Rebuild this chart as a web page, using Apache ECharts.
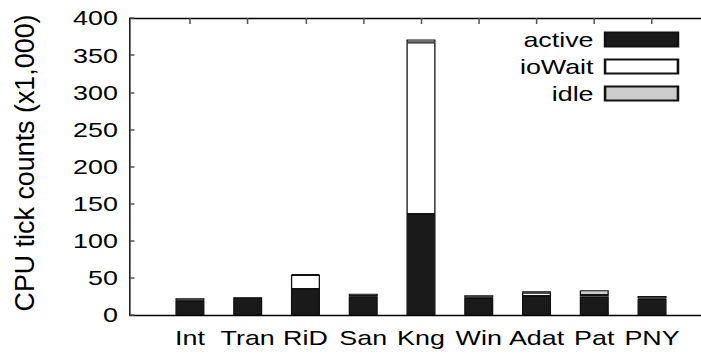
<!DOCTYPE html>
<html>
<head>
<meta charset="utf-8">
<script src="https://cdn.jsdelivr.net/npm/echarts@6/dist/echarts.min.js"></script>
<style>
  html, body { margin: 0; padding: 0; background: #fff; overflow: hidden; }
  /* The chart is laid out on a narrower canvas and widened horizontally,
     which gives the broad lettering of the figure. */
  #chart { width: 548px; height: 357px; transform: scaleX(1.2792); transform-origin: 0 0; }
</style>
</head>
<body>
<div id="chart"></div>
<script>
// Workloads on the x axis
const categories = ['Int', 'Tran', 'RiD', 'San', 'Kng', 'Win', 'Adat', 'Pat', 'PNY'];
// CPU tick counts, in thousands, per state
const active = [19, 22, 35, 25, 136, 23, 25.5, 25, 21.5];
const ioWait = [0.5, 0.5, 19, 0.5, 231, 0.5, 4.5, 2, 1];
const idle   = [3, 1.5, 1, 3, 4, 3, 2, 6.5, 3];
// Y axis range and step
const yTicks = { min: 0, max: 400, step: 50 };
const yTitle = 'CPU tick counts (x1,000)';

const WIDEN = 1.2792;
const font = 'Liberation Sans, Arial, Helvetica, sans-serif';
const chart = echarts.init(document.getElementById('chart'), null, { renderer: 'svg' });

function barSeries(name, data, color) {
  return {
    name: name,
    type: 'bar',
    stack: 'cpu',
    xAxisIndex: 2,
    yAxisIndex: 1,
    barWidth: 22.7,
    data: data,
    itemStyle: { color: color, borderColor: '#111', borderWidth: 1 },
    emphasis: { disabled: true },
    animation: false
  };
}

chart.setOption({
  animation: false,
  backgroundColor: '#fff',
  grid: [
    // frame with the y axis
    { left: 101.6, right: 0, top: 18, bottom: 42, containLabel: false },
    // band area holding the bars
    { left: 125.9, right: 15.7, top: 18, bottom: 42, containLabel: false }
  ],
  graphic: [{
    type: 'text',
    x: 19.5,
    y: 163,
    rotation: Math.PI / 2,
    scaleX: WIDEN,
    silent: true,
    style: {
      text: yTitle,
      fontFamily: font,
      fontSize: 21,
      fill: '#000',
      align: 'center',
      verticalAlign: 'middle',
      textAlign: 'center',
      textVerticalAlign: 'middle'
    }
  }],
  legend: {
    orient: 'vertical',
    right: 12,
    top: 24,
    align: 'right',
    itemWidth: 57,
    itemHeight: 14,
    itemGap: 6,
    icon: 'rect',
    selectedMode: false,
    data: ['active', 'ioWait', 'idle'],
    textStyle: { fontFamily: font, fontSize: 21, color: '#000', width: 80, align: 'right', lineHeight: 21, padding: [0, 4, 0, 0] }
  },
  xAxis: [
    { type: 'value', gridIndex: 0, min: 0, max: 1, position: 'bottom',
      axisLine: { show: true, lineStyle: { color: '#000', width: 1.3 } },
      axisTick: { show: false }, axisLabel: { show: false }, splitLine: { show: false } },
    { type: 'value', gridIndex: 0, min: 0, max: 1, position: 'top',
      axisLine: { show: true, lineStyle: { color: '#000', width: 1.3 } },
      axisTick: { show: false }, axisLabel: { show: false }, splitLine: { show: false } },
    { type: 'category', gridIndex: 1, data: categories, position: 'bottom',
      axisLine: { show: false }, axisTick: { show: false },
      axisLabel: { show: true, fontFamily: font, fontSize: 21, color: '#000', margin: 12, interval: 0 } },
    { type: 'category', gridIndex: 1, data: categories, position: 'top',
      axisLine: { show: false },
      axisTick: { show: true, inside: true, length: 6, alignWithLabel: true, lineStyle: { color: '#555', width: 1.2 } },
      axisLabel: { show: false } }
  ],
  yAxis: [
    { type: 'value', gridIndex: 0, min: yTicks.min, max: yTicks.max, interval: yTicks.step,
      axisLine: { show: true, lineStyle: { color: '#000', width: 1.1 } },
      axisTick: { show: true, inside: true, length: 3.5, lineStyle: { color: '#555', width: 1.5 } },
      axisLabel: { fontFamily: font, fontSize: 21, color: '#000', margin: 9.4 },
      splitLine: { show: false } },
    { type: 'value', gridIndex: 1, min: yTicks.min, max: yTicks.max, interval: yTicks.step, show: false }
  ],
  series: [
    barSeries('active', active, '#1a1a1a'),
    barSeries('ioWait', ioWait, '#ffffff'),
    barSeries('idle', idle, '#cccccc')
  ]
});
</script>
</body>
</html>
